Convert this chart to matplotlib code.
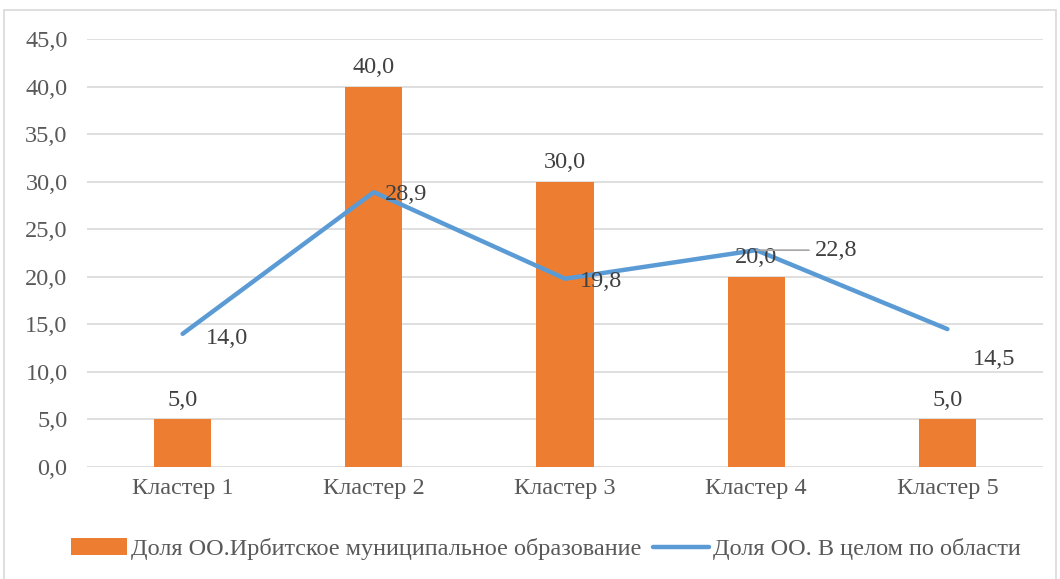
import matplotlib.pyplot as plt
from matplotlib.patches import Rectangle

# data
clusters = ["Кластер 1", "Кластер 2", "Кластер 3", "Кластер 4", "Кластер 5"]
irbit = [5.0, 40.0, 30.0, 20.0, 5.0]
region = [14.0, 28.9, 19.8, 22.8, 14.5]
bar_name = "Доля ОО.Ирбитское муниципальное образование"
line_name = "Доля ОО. В целом по области"

plt.rcParams['font.family'] = ['Liberation Serif', 'DejaVu Serif']
FS = 17.5

fig = plt.figure(figsize=(10.6, 5.79), dpi=100)
ax = fig.add_axes([87/1060, 1 - 467/579, 956/1060, 428/579])

x = list(range(len(clusters)))
bars = ax.bar(x, irbit, width=0.30, color='#ED7D31', label=bar_name, zorder=2)
line, = ax.plot(x, region, color='#5B9BD5', linewidth=3.2, label=line_name, zorder=3,
                solid_capstyle='round', solid_joinstyle='round')

ax.set_xlim(-0.5, 4.5)
ax.set_ylim(0, 45)
ax.set_yticks([i * 5 for i in range(10)])
ax.set_yticklabels([f"{i * 5:.1f}".replace('.', ',') for i in range(10)])
ax.set_xticks(x)
ax.set_xticklabels(clusters)
ax.tick_params(axis='both', length=0, labelsize=FS, colors='#595959')
ax.tick_params(axis='y', pad=14)
ax.tick_params(axis='x', pad=8)
ax.grid(axis='y', color='#D9D9D9', linewidth=1.2, zorder=0)
for s in ax.spines.values():
    s.set_visible(False)

# bar labels
for xi, v in zip(x, irbit):
    ax.annotate(f"{v:.1f}".replace('.', ','), (xi, v), xytext=(0, 6),
                textcoords='offset points', ha='center', va='bottom',
                fontsize=FS, color='#404040')

# line labels
offsets = [(17, -1), (8, 0), (11, 0), (0, 0), (18, -20)]
for i, (xi, v) in enumerate(zip(x, region)):
    lab = f"{v:.1f}".replace('.', ',')
    if i == 3:
        ax.annotate(lab, (xi, v), xytext=(42, 0), textcoords='offset points',
                    ha='left', va='center', fontsize=FS, color='#404040',
                    arrowprops=dict(arrowstyle='-', color='#A6A6A6', lw=1.2,
                                    shrinkA=2, shrinkB=0))
    else:
        dx, dy = offsets[i]
        ax.annotate(lab, (xi, v), xytext=(dx, dy - 2), textcoords='offset points',
                    ha='left', va='center', fontsize=FS, color='#404040')

fig.legend([bars, line], [bar_name, line_name], loc='center',
           bbox_to_anchor=(0.515, 1 - 549/579), ncol=2, frameon=False,
           fontsize=FS, handlelength=2.3, columnspacing=0.5, handletextpad=0.15,
           labelcolor='#595959')

fig.patches.append(Rectangle((4/1060, -0.05), 1052/1060, 1.05 - 10/579,
                             transform=fig.transFigure, fill=False,
                             edgecolor='#D9D9D9', linewidth=1.2))

fig.savefig("out.png", dpi=100)
